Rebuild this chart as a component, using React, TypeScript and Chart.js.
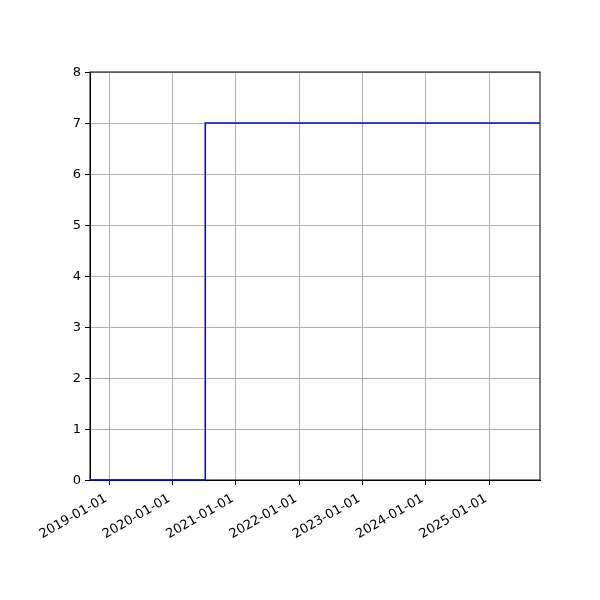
import { useEffect, useRef } from 'react';
import Chart from 'chart.js/auto';

// step series: value holds from each date until the next one
const dates = ['2018-09-13', '2020-07-09', '2025-10-22'];
const values = [0, 7, 7];
const tickYears = [2019, 2020, 2021, 2022, 2023, 2024, 2025];
const yTicks = [0, 1, 2, 3, 4, 5, 6, 7, 8];

const toMs = (d: string) => Date.parse(d + 'T00:00:00Z');
const pad = (n: number) => String(n).padStart(2, '0');
const fmt = (ms: number) => {
  const d = new Date(ms);
  return `${d.getUTCFullYear()}-${pad(d.getUTCMonth() + 1)}-${pad(d.getUTCDate())}`;
};

const frame = {
  id: 'frame',
  beforeDatasetsDraw(chart: any) {
    const { ctx, chartArea: a } = chart;
    ctx.save();
    ctx.strokeStyle = '#000';
    ctx.lineWidth = 1;
    ctx.strokeRect(a.left, a.top, a.right - a.left, a.bottom - a.top);
    ctx.restore();
  },
};

export default function App() {
  const canvasRef = useRef<HTMLCanvasElement | null>(null);
  const chartRef = useRef<Chart | null>(null);

  useEffect(() => {
    if (!canvasRef.current) return;
    if (chartRef.current) chartRef.current.destroy();

    const pts = dates.map((d, i) => ({ x: toMs(d), y: values[i] }));
    const font = { family: 'DejaVu Sans', size: 13 };

    chartRef.current = new Chart(canvasRef.current, {
      type: 'line',
      data: {
        datasets: [
          {
            data: pts,
            stepped: 'before',
            borderColor: '#0000ff',
            borderWidth: 1.5,
            pointRadius: 0,
            fill: false,
            clip: 2,
          },
        ],
      },
      plugins: [frame],
      options: {
        animation: false,
        responsive: false,
        events: [],
        layout: { padding: { top: 72, right: 60, left: 0, bottom: 0 } },
        plugins: { legend: { display: false }, tooltip: { enabled: false } },
        scales: {
          x: {
            type: 'linear',
            min: pts[0].x,
            max: pts[pts.length - 1].x,
            afterBuildTicks: (s: any) => {
              s.ticks = tickYears.map((y) => ({ value: Date.UTC(y, 0, 1) }));
            },
            afterFit: (s: any) => {
              s.height = 120;
            },
            ticks: {
              minRotation: 30,
              maxRotation: 30,
              autoSkip: false,
              color: '#000',
              font,
              padding: 6,
              labelOffset: -3,
              callback: (v: any) => fmt(Number(v)),
            },
            grid: { color: '#b0b0b0', tickColor: '#000', tickLength: 5, lineWidth: 1 },
            border: { color: '#000', width: 1 },
          },
          y: {
            min: 0,
            max: 8,
            afterBuildTicks: (s: any) => {
              s.ticks = yTicks.map((v) => ({ value: v }));
            },
            afterFit: (s: any) => {
              s.width = 90;
            },
            ticks: { color: '#000', font, padding: 4, labelOffset: 1 },
            grid: { color: '#b0b0b0', tickColor: '#000', tickLength: 5, lineWidth: 1 },
            border: { color: '#000', width: 1 },
          },
        },
      },
    });

    return () => {
      if (chartRef.current) {
        chartRef.current.destroy();
        chartRef.current = null;
      }
    };
  }, []);

  return (
    <div style={{ position: 'fixed', left: 0, top: 0, width: 600, height: 600, background: '#fff' }}>
      <canvas ref={canvasRef} width={600} height={600} style={{ width: 600, height: 600 }} />
    </div>
  );
}
